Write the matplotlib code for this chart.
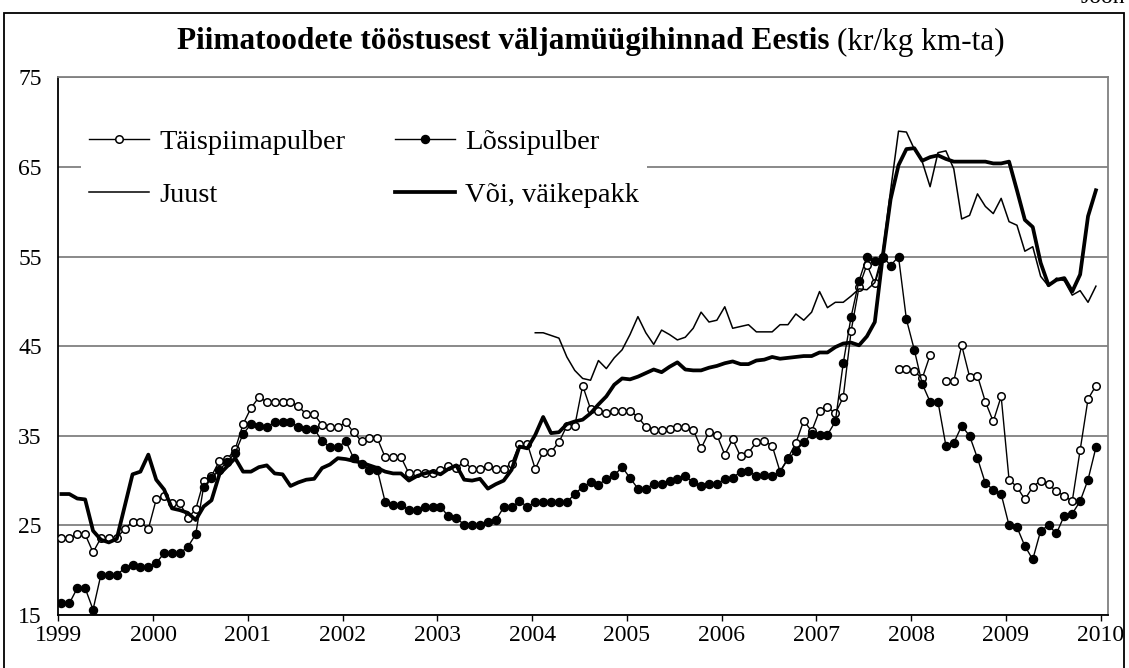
import matplotlib
matplotlib.use('Agg')
import matplotlib.pyplot as plt
import numpy as np
from matplotlib.lines import Line2D
from matplotlib.patches import Rectangle

plt.rcParams['font.family'] = ['Liberation Serif', 'DejaVu Serif']

nan = np.nan

# Monthly prices, Jan 1999 - Dec 2009 (kr/kg)
taispiimapulber = [
    23.6, 23.6, 24.0, 24.0, 22.0, 23.6, 23.6, 23.6, 24.6, 25.4, 25.4, 24.6,
    27.9, 28.3, 27.5, 27.5, 25.8, 26.8, 29.9, 30.5, 32.2, 32.4, 33.5, 36.3,
    38.1, 39.3, 38.8, 38.8, 38.8, 38.8, 38.3, 37.4, 37.4, 36.2, 36.0, 36.0,
    36.5, 35.4, 34.4, 34.7, 34.7, 32.6, 32.6, 32.6, 30.8, 30.8, 30.8, 30.8,
    31.2, 31.6, 31.4, 32.1, 31.3, 31.3, 31.6, 31.3, 31.3, 31.9, 34.1, 34.1,
    31.3, 33.2, 33.2, 34.3, 36.1, 36.1, 40.6, 38.0, 37.8, 37.5, 37.8, 37.8,
    37.8, 37.1, 36.0, 35.6, 35.6, 35.8, 36.0, 36.0, 35.7, 33.6, 35.4, 35.1,
    32.9, 34.6, 32.7, 33.1, 34.3, 34.4, 33.9, 31.0, 32.5, 34.2, 36.7, 35.5,
    37.8, 38.2, 37.5, 39.3, 46.7, 51.6, 54.1, 52.0, 54.8, nan, 42.5, 42.5,
    42.2, 41.4, 44.0, nan, 41.1, 41.1, 45.1, 41.6, 41.7, 38.8, 36.6, 39.4,
    30.1, 29.3, 27.9, 29.3, 30.0, 29.6, 28.8, 28.3, 27.7, 33.4, 39.1, 40.6,
]

lossipulber = [
    16.3, 16.3, 18.0, 18.0, 15.6, 19.5, 19.5, 19.5, 20.2, 20.6, 20.4, 20.4,
    20.8, 21.9, 21.9, 21.9, 22.6, 24.0, 29.3, 30.3, 31.2, 32.1, 33.1, 35.2,
    36.3, 36.1, 36.0, 36.5, 36.5, 36.5, 36.0, 35.8, 35.8, 34.4, 33.7, 33.7,
    34.4, 32.5, 31.9, 31.2, 31.2, 27.6, 27.3, 27.3, 26.7, 26.7, 27.0, 27.0,
    27.1, 26.0, 25.8, 25.1, 25.1, 25.1, 25.4, 25.6, 27.0, 27.0, 27.7, 27.1,
    27.6, 27.6, 27.6, 27.6, 27.6, 28.5, 29.3, 29.8, 29.5, 30.2, 30.6, 31.5,
    30.3, 29.1, 29.1, 29.6, 29.6, 30.0, 30.2, 30.5, 29.8, 29.4, 29.6, 29.6,
    30.2, 30.3, 31.0, 31.1, 30.5, 30.6, 30.5, 31.0, 32.4, 33.3, 34.3, 35.2,
    35.1, 35.1, 36.6, 43.1, 48.3, 52.3, 55.0, 54.5, 55.0, 54.0, 55.0, 48.0,
    44.6, 40.8, 38.8, 38.8, 33.9, 34.2, 36.1, 35.0, 32.5, 29.7, 29.0, 28.5,
    25.0, 24.8, 22.7, 21.2, 24.4, 25.0, 24.1, 26.1, 26.3, 27.7, 30.1, 33.7,
]

juust = [nan] * 60 + [
    46.5, 46.5, 46.2, 45.9, 43.8, 42.3, 41.4, 41.2, 43.4, 42.5, 43.7, 44.6,
    46.3, 48.3, 46.5, 45.2, 46.8, 46.3, 45.7, 46.0, 47.0, 48.8, 47.7, 47.9,
    49.4, 47.0, 47.2, 47.4, 46.6, 46.6, 46.6, 47.4, 47.4, 48.6, 47.9, 48.8,
    51.1, 49.3, 49.9, 49.9, 50.6, 51.4, 51.3, 52.1, 55.5, 62.4, 69.0, 68.9,
    67.0, 65.6, 62.8, 66.6, 66.8, 64.8, 59.2, 59.6, 62.0, 60.6, 59.8, 61.5,
    58.9, 58.5, 55.6, 56.1, 52.8, 51.7, 52.6, 52.3, 50.7, 51.2, 49.9, 51.7,
]

voi = [
    28.5, 28.5, 28.0, 27.9, 24.4, 23.4, 23.1, 23.5, 27.1, 30.7, 31.0, 32.9,
    30.1, 29.0, 26.9, 26.7, 26.4, 25.6, 27.1, 27.8, 30.7, 31.6, 32.5, 31.0,
    31.0, 31.5, 31.7, 30.8, 30.7, 29.4, 29.8, 30.1, 30.2, 31.4, 31.8, 32.5,
    32.4, 32.2, 32.0, 31.7, 31.4, 31.0, 30.8, 30.8, 30.0, 30.5, 30.8, 31.0,
    30.7, 31.3, 31.7, 30.1, 30.0, 30.2, 29.1, 29.6, 30.0, 31.2, 33.8, 33.6,
    35.1, 37.1, 35.3, 35.4, 36.3, 36.6, 36.8, 37.5, 38.5, 39.4, 40.7, 41.4,
    41.3, 41.6, 42.0, 42.4, 42.1, 42.7, 43.2, 42.4, 42.3, 42.3, 42.6, 42.8,
    43.1, 43.3, 43.0, 43.0, 43.4, 43.5, 43.8, 43.6, 43.7, 43.8, 43.9, 43.9,
    44.3, 44.3, 44.9, 45.3, 45.4, 45.1, 46.1, 47.7, 55.0, 61.4, 65.2, 67.0,
    67.1, 65.7, 66.1, 66.3, 65.9, 65.6, 65.6, 65.6, 65.6, 65.6, 65.4, 65.4,
    65.6, 62.4, 59.1, 58.3, 54.3, 51.8, 52.4, 52.6, 51.1, 53.0, 59.5, 62.4,
]

labels = ['Täispiimapulber', 'Lõssipulber', 'Juust', 'Või, väikepakk']
year_ticks = list(range(1999, 2011))
y_ticks = [15, 25, 35, 45, 55, 65, 75]

n = len(voi)
x = 1999 + (np.arange(n) + 0.4) / 12.0

W, H = 1129, 668
fig = plt.figure(figsize=(W / 100, H / 100), dpi=100)
ax = fig.add_axes([58.3 / W, (H - 615) / H, (1108 - 58.3) / W, (615 - 77.4) / H])

ax.plot(x, taispiimapulber, color='black', lw=1.0, marker='o', ms=5.4,
        mfc='white', mec='black', mew=1.1, zorder=3)
ax.plot(x, lossipulber, color='black', lw=1.0, marker='o', ms=5.8,
        mfc='black', mec='black', zorder=3)
ax.plot(x, juust, color='black', lw=1.1, zorder=3)
ax.plot(x, voi, color='black', lw=2.7, zorder=3)

ax.set_xlim(1999, 1999 + (1108 - 58.3) / 94.76)
ax.set_ylim(15, 75)
ax.set_xticks(year_ticks)
ax.set_yticks(y_ticks)
ax.yaxis.grid(True, color='#808080', lw=1.3)
ax.set_axisbelow(True)
for s in ['left', 'bottom']:
    ax.spines[s].set_color('black')
    ax.spines[s].set_linewidth(1.3)
for s in ['top', 'right']:
    ax.spines[s].set_color('#808080')
    ax.spines[s].set_linewidth(1.3)
ax.tick_params(axis='x', direction='out', length=4, width=1, labelsize=17, pad=3)
ax.tick_params(axis='y', direction='out', length=0, width=1, labelsize=17, pad=12)

handles = [
    Line2D([], [], color='black', lw=1.0, marker='o', ms=5.4, mfc='white', mec='black', mew=1.1),
    Line2D([], [], color='black', lw=1.1),
    Line2D([], [], color='black', lw=1.0, marker='o', ms=5.8, mfc='black', mec='black'),
    Line2D([], [], color='black', lw=2.7),
]
leg_labels = [labels[0], labels[2], labels[1], labels[3]]
leg = ax.legend(handles, leg_labels, ncol=2, loc='upper left',
                bbox_to_anchor=(0.008, 0.946), fontsize=20.5, frameon=True,
                facecolor='white', edgecolor='none', framealpha=1, fancybox=False,
                handlelength=2.1, handletextpad=0.35, columnspacing=1.75,
                labelspacing=0.95, borderpad=0.3)
leg.set_zorder(5)

# Title: bold part + normal part, centred as a whole
fig.canvas.draw()
r = fig.canvas.get_renderer()
ty = 1 - 42 / H
t1 = fig.text(0, ty, 'Piimatoodete tööstusest väljamüügihinnad Eestis',
              fontsize=22.5, fontweight='bold', ha='left', va='center')
t2 = fig.text(0, ty, '(kr/kg km-ta)', fontsize=22.5, ha='left', va='center')
b1 = t1.get_window_extent(renderer=r)
b2 = t2.get_window_extent(renderer=r)
gap = 7
total = b1.width + gap + b2.width
x0 = 591 - total / 2
t1.set_x(x0 / W)
t2.set_x((x0 + b1.width + gap) / W)

fig.text(1125 / W, 1 - 3 / H, 'Joon', fontsize=17, ha='right', va='baseline')

fig.add_artist(Rectangle((4 / W, -0.01), (1124 - 4) / W, (H - 13) / H + 0.01,
                         transform=fig.transFigure, fill=False,
                         edgecolor='black', lw=1.3))

fig.savefig('out.png', dpi=100)
